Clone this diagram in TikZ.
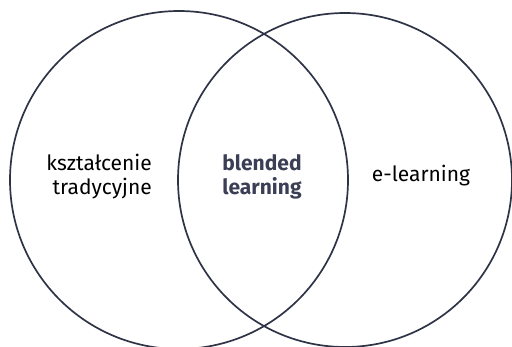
\documentclass[tikz,border=0pt]{standalone}
\usepackage{fontspec}
\setmainfont{Fira Sans}
\usetikzlibrary{positioning}
\definecolor{slate}{HTML}{2E3346}
\definecolor{slatetext}{HTML}{3A3F55}

\begin{document}
\begin{tikzpicture}[x=1pt,y=-1pt]

    \tikzset{
      ring/.style={draw=slate, line width=1.7pt},
      label/.style={font=\fontsize{21}{24}\selectfont, text=black, inner sep=0pt},
    }
    \useasboundingbox (0,0) rectangle (512,346);

    % the two sets
    \draw [ring] (179,180) circle (169);
    \draw [ring] (345,180) circle (167);

    % texts
    \node (trad) [label, align=right, anchor=east] at (152,177) {kształcenie\\tradycyjne};
    \node (blend) [label, align=center, text=slatetext, font=\fontsize{21}{24}\selectfont\bfseries] at (262,177) {blended\\learning};
    \node (elearn) [label] at (421,176) {e-learning};

\end{tikzpicture}
\end{document}
